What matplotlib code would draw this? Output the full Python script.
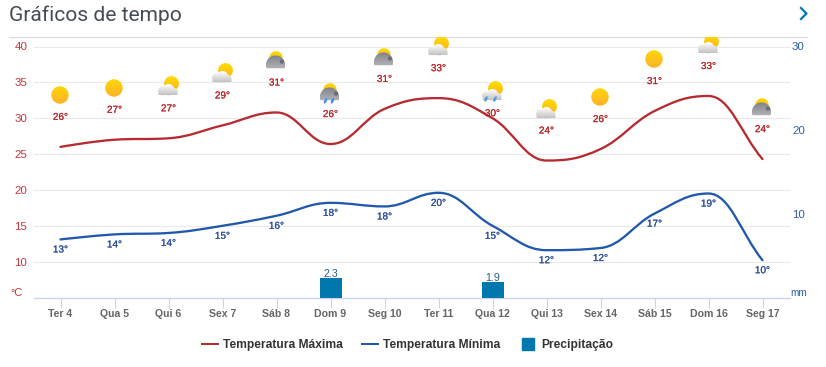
import numpy as np
import matplotlib
matplotlib.use("Agg")
import matplotlib.pyplot as plt
import matplotlib.patheffects as pe
from matplotlib.lines import Line2D
from matplotlib.path import Path
from matplotlib.patches import PathPatch

days = ["Ter 4", "Qua 5", "Qui 6", "Sex 7", "Sáb 8", "Dom 9", "Seg 10", "Ter 11",
        "Qua 12", "Qui 13", "Sex 14", "Sáb 15", "Dom 16", "Seg 17"]
temp_max = [26.0, 27.0, 27.2, 29.0, 30.8, 26.4, 31.3, 32.8, 30.0, 24.1, 25.7, 31.0, 33.1, 24.3]
temp_min = [13.1, 13.8, 14.0, 15.0, 16.4, 18.2, 17.7, 19.6, 15.0, 11.6, 11.9, 16.7, 19.5, 10.2]
max_labels = [26, 27, 27, 29, 31, 26, 31, 33, 30, 24, 26, 31, 33, 24]
min_labels = [13, 14, 14, 15, 16, 18, 18, 20, 15, 12, 12, 17, 19, 10]
precip = [0, 0, 0, 0, 0, 2.3, 0, 0, 1.9, 0, 0, 0, 0, 0]
icons = ["sun", "sun", "partly", "partly", "cloudy", "rain", "cloudy", "partly",
         "partlyrain", "partly", "sun", "sun", "partly", "cloudy"]

W, H = 826, 367
plt.rcParams["font.family"] = ["Liberation Sans", "DejaVu Sans"]
RED, BLUE, BAR = "#b72b30", "#2059ab", "#0078ae"
px = 0.72

fig = plt.figure(figsize=(W / 100, H / 100), dpi=100, facecolor="white")
ax = fig.add_axes([33.5 / W, (H - 297.5) / H, 756 / W, 251 / H])
ax.set_xlim(-0.5, 13.5)
ax.set_ylim(5, 40)
ax.patch.set_alpha(0)
ax2 = ax.twinx()
ax2.set_ylim(0, 30)
ax2.patch.set_alpha(0)
for a in (ax, ax2):
    for s in a.spines.values():
        s.set_visible(False)
ax.spines["bottom"].set_visible(True)
ax.spines["bottom"].set_color("#ccd6eb")
ax.spines["bottom"].set_linewidth(1.0)

ax.set_yticks([10, 15, 20, 25, 30, 35, 40])
ax.tick_params(axis="y", length=0, pad=6 * px, labelsize=11.5 * px, labelcolor="#c4373b")
ax.grid(axis="y", color="#e9e9e9", lw=0.8)
ax.set_axisbelow(True)
ax.set_xticks(range(14))
ax.set_xticklabels(days, fontweight="bold", color="#666666", fontsize=10.5 * px)
ax.tick_params(axis="x", length=10 * px, width=0.8, color="#ccd6eb", pad=1.5 * px)
ax2.set_yticks([10, 20, 30])
ax2.tick_params(axis="y", length=0, pad=2.5 * px, labelsize=11.5 * px, labelcolor="#2d5fa8")


def spline(ys, smoothing=1.5, denom=2.5):
    n = len(ys)
    verts, codes = [(0, ys[0])], [Path.MOVETO]
    rx, ry = 0.0, ys[0]
    for i in range(1, n):
        x, y = float(i), ys[i]
        lx, ly = (smoothing * x + (i - 1)) / denom, (smoothing * y + ys[i - 1]) / denom
        if i < n - 1:
            nx, ny = (smoothing * x + (i + 1)) / denom, (smoothing * y + ys[i + 1]) / denom
            corr = (ny - ly) * (nx - x) / (nx - lx) + y - ny
            ly += corr
            ny += corr
            last = ys[i - 1]
            nxt = ys[i + 1]
            if ly > last and ly > y:
                ly = max(last, y)
                ny = 2 * y - ly
            elif ly < last and ly < y:
                ly = min(last, y)
                ny = 2 * y - ly
            if ny > nxt and ny > y:
                ny = max(nxt, y)
                ly = 2 * y - ny
            elif ny < nxt and ny < y:
                ny = min(nxt, y)
                ly = 2 * y - ny
        else:
            nx, ny = x, y
        verts += [(rx, ry), (lx, ly), (x, y)]
        codes += [Path.CURVE4] * 3
        rx, ry = nx, ny
    return Path(verts, codes)


for series, col in ((temp_max, RED), (temp_min, BLUE)):
    ax.add_patch(PathPatch(spline(series), fc="none", ec=col, lw=2.3 * px, capstyle="round", zorder=3))

xs = np.arange(14)
ax2.bar(xs, precip, width=22 / 54, color=BAR, zorder=2)
for i, p in enumerate(precip):
    if p > 0:
        ax2.annotate(f"{p}", (i, p), xytext=(0, -1), textcoords="offset pixels", ha="center",
                     va="bottom", fontsize=10.6 * px, color="#23608f")

# label position above / below the daily points, in pixels
top_offset = [30] * 14
top_offset[8] = 5
halo_r = [pe.withStroke(linewidth=0.12, foreground="#b8282c")]
halo_b = [pe.withStroke(linewidth=0.12, foreground="#2c4f9e")]
for i in range(14):
    ax2.annotate(f"{max_labels[i]}°", (i, (temp_max[i] - 5) * 30 / 35),
                 xytext=(0, top_offset[i]), textcoords="offset pixels", ha="center", va="center",
                 fontsize=10 * px, color="#b8282c", zorder=6, path_effects=halo_r)
    ax2.annotate(f"{min_labels[i]}°", (i, (temp_min[i] - 5) * 30 / 35),
                 xytext=(0, -10), textcoords="offset pixels", ha="center", va="center",
                 fontsize=10 * px, color="#2c4f9e", zorder=6, path_effects=halo_b)


# weather icons rendered as small images
def make_icon(kind, size=40, ss=4):
    n = size * ss
    c = np.linspace(-size / 2, size / 2, n, endpoint=False) + 0.5 / ss
    X, Y = np.meshgrid(c, c)
    img = np.zeros((n, n, 4))

    def over(mask, rgb):
        for k in range(3):
            img[..., k] = np.where(mask, rgb[k], img[..., k])
        img[..., 3] = np.where(mask, 1.0, img[..., 3])

    def col(a):
        return np.array(matplotlib.colors.to_rgb(a))

    def vgrad(c1, c2, y0, y1):
        t = np.clip((Y - y0) / (y1 - y0), 0, 1)[..., None]
        g = col(c1) * (1 - t) + col(c2) * t
        return [g[..., k] for k in range(3)]

    def circles(lst):
        m = np.zeros_like(X, dtype=bool)
        for cx, cy, r in lst:
            m |= (X - cx) ** 2 + (Y - cy) ** 2 <= r ** 2
        return m

    def drops(xlist, yc):
        m = np.zeros_like(X, dtype=bool)
        for dx in xlist:
            m |= ((X - dx + 0.35 * (Y - yc)) ** 2 / 2.0 + (Y - yc) ** 2 / 7.5 <= 1)
        return m

    if kind == "sun":
        over(circles([(0, 0, 8.7)]), vgrad("#ffd508", "#fdb32a", -8, 8))
    elif kind in ("partly", "partlyrain"):
        over(circles([(3.5, -2.5, 7.4)]), vgrad("#ffdc00", "#fdb31e", -9, 5))
        m = circles([(-5.5, 4.8, 4.4), (0.5, 3.8, 5.8), (6, 5.5, 3.6)])
        m |= (np.abs(X) <= 9.5) & (Y >= 5) & (Y <= 9)
        m &= Y <= 9.3
        over(m, vgrad("#fbfbfb", "#c2c2c2", -1, 9))
        if kind == "partlyrain":
            over(drops((-6, 3), 8), col("#4a9bec"))
    else:
        over(circles([(0, -2.2, 6.6)]), vgrad("#ffdc00", "#fcc010", -10, 0))
        m = circles([(-0.5, 5.0, 9.6)]) & (Y <= 8.2)
        over(m, vgrad("#84848c", "#b0b0b6", -4, 8))
        over(circles([(6, 1.5, 2.2)]), col("#6e6e76"))
        if kind == "rain":
            over(drops((-4.5, 2.5), 8.8), col("#3f93ea"))
    rgb_a = img.reshape(size, ss, size, ss, 4).mean(axis=(1, 3))
    a = rgb_a[..., 3:]
    rgb = np.where(a > 0, rgb_a[..., :3] / np.maximum(a, 1e-6), 1.0)
    return np.dstack([rgb, a[..., 0]])


for i, kind in enumerate(icons):
    dx, dy = ax.transData.transform((i, temp_max[i]))
    top_px = H - dy - top_offset[i] - 22 - 20   # icon box top in image pixels
    left = int(round(dx - 20))
    top = int(round(top_px))
    im = make_icon(kind)
    if top < 37:
        im = im[37 - top:]
        top = 37
    fig.figimage(im, xo=left, yo=H - top - im.shape[0], origin="upper", zorder=2)


def fx(x):
    return x / W


def fy(y):
    return 1 - y / H


fig.text(fx(9), fy(15), "Gráficos de tempo", family="Roboto", fontsize=21 * px,
         color="#454c55", ha="left", va="center")
fig.add_artist(Line2D([fx(9), fx(807)], [fy(36.5), fy(36.5)], color="#dddddd", lw=1.2 * px))
fig.add_artist(Line2D([fx(801), fx(806.5), fx(801)], [fy(8), fy(13.5), fy(19)], color=BAR, lw=2.2 * px))
fig.text(fx(22.5), fy(293), "°C", fontsize=11 * px, color="#c4373b", ha="right", va="center")
fig.text(fx(790.5), fy(293), "mm", fontsize=10 * px, color="#2d5fa8", ha="left", va="center")

handles = [
    Line2D([], [], color=RED, lw=2 * px),
    Line2D([], [], color=BLUE, lw=2 * px),
    Line2D([], [], color=BAR, marker="s", ms=12.5 * px, ls="none"),
]
leg = fig.legend(handles, ["Temperatura Máxima", "Temperatura Mínima", "Precipitação"],
                 loc="center", bbox_to_anchor=(fx(407.5), fy(345)), ncol=3, frameon=False,
                 handlelength=1.35, handletextpad=0.42, columnspacing=1.62,
                 prop={"weight": "bold", "size": 12 * px, "family": "Liberation Sans"},
                 labelcolor="#333333", borderpad=0)

fig.savefig("out.png", dpi=100, facecolor="white")
